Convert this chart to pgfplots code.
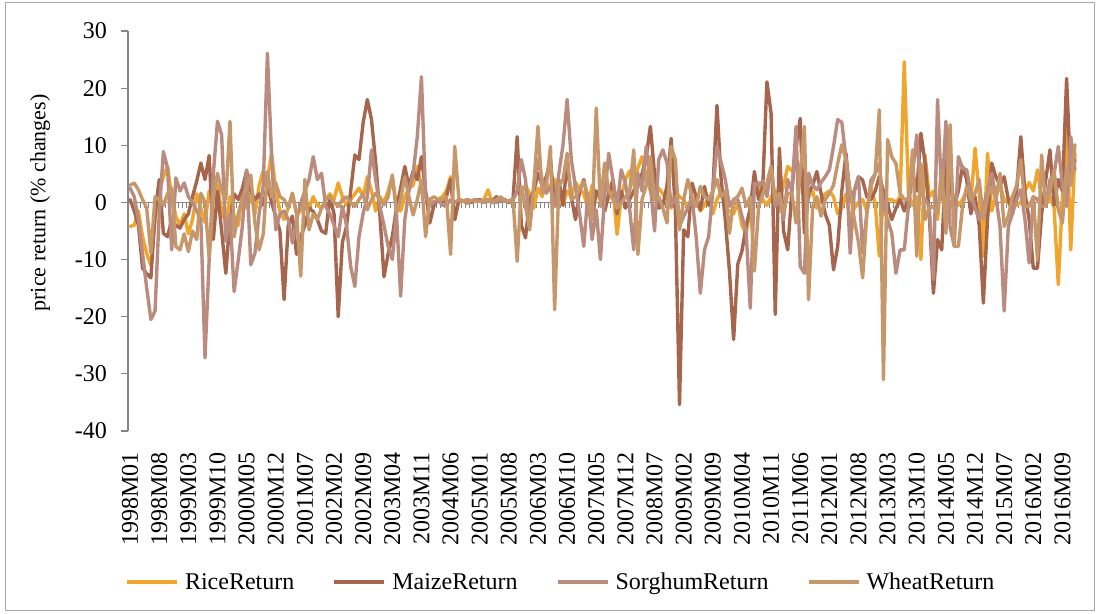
\documentclass[border=0pt]{standalone}
\usepackage{pgfplots}
\pgfplotsset{compat=1.18}
\usepackage{pgfplotstable}
\usepackage{fontspec}
\setmainfont{Liberation Serif}
\definecolor{rice}{RGB}{240,165,45}
\definecolor{maize}{RGB}{166,102,78}
\definecolor{sorghum}{RGB}{186,140,128}
\definecolor{wheat}{RGB}{197,151,106}
\definecolor{axgray}{RGB}{134,134,134}
\definecolor{framegray}{RGB}{170,170,170}

% monthly returns 1998M01 ... 2016M12, one value per month
\pgfplotstableread[row sep=\\, header=false]{
-4.2\\ -4.0\\ -1.5\\ -6.0\\ -9.0\\ -11.0\\ -3.0\\ 2.0\\ 4.5\\ 6.3\\ 1.0\\ -2.5\\
-4.0\\ -2.0\\ -5.5\\ -3.0\\ 1.5\\ -1.0\\ -3.5\\ 2.0\\ 0.5\\ 3.0\\ -1.5\\ -3.5\\
1.0\\ -2.5\\ -4.0\\ 2.0\\ -1.0\\ 1.5\\ -2.0\\ 3.0\\ 5.5\\ 4.0\\ 8.6\\ 2.0\\
-1.5\\ -3.0\\ -1.0\\ 1.6\\ -2.0\\ -1.5\\ 0.5\\ -1.0\\ 1.0\\ -0.5\\ -1.0\\ 0.5\\
1.5\\ 0.5\\ 3.4\\ 1.0\\ -0.5\\ 0.5\\ 1.5\\ 2.5\\ 1.0\\ 4.5\\ 2.0\\ -1.5\\
1.0\\ 0.0\\ 2.0\\ 4.5\\ -0.5\\ -1.5\\ 1.0\\ 2.5\\ 3.0\\ 6.3\\ 2.5\\ 1.0\\
0.5\\ 0.0\\ 0.5\\ 1.0\\ 2.0\\ 4.5\\ -3.0\\ 0.5\\ 0.3\\ -0.2\\ 0.3\\ 0.5\\
0.2\\ 0.5\\ 2.2\\ 0.0\\ 0.3\\ 0.5\\ 0.2\\ 0.0\\ 0.5\\ 2.0\\ 1.5\\ 3.0\\
1.5\\ -1.0\\ 2.5\\ 1.0\\ 3.5\\ 2.0\\ 4.0\\ 0.5\\ -0.5\\ 2.0\\ 1.0\\ 3.5\\
2.5\\ 1.5\\ -1.0\\ 3.0\\ 1.5\\ 0.5\\ -1.5\\ 1.0\\ 2.5\\ -5.6\\ 1.0\\ 4.0\\
5.5\\ 3.0\\ 6.0\\ 8.0\\ 4.5\\ 2.0\\ 0.5\\ 2.5\\ 1.5\\ 0.5\\ -1.0\\ 2.0\\
1.0\\ 0.5\\ -1.0\\ -0.5\\ 0.5\\ -1.5\\ -0.5\\ 1.0\\ -2.0\\ 0.5\\ 2.0\\ -1.0\\
-1.5\\ -2.0\\ 0.0\\ -4.0\\ -5.5\\ -1.0\\ 2.0\\ 3.5\\ 0.5\\ -0.5\\ 1.0\\ 2.0\\
0.5\\ 3.0\\ 6.3\\ 5.5\\ 7.0\\ 6.5\\ 0.5\\ 1.0\\ 2.0\\ -1.0\\ 0.5\\ 1.5\\
2.0\\ 1.0\\ -2.0\\ -1.0\\ 1.5\\ -3.0\\ -1.0\\ 0.0\\ 0.5\\ -1.5\\ 2.5\\ 0.0\\
-9.4\\ 1.0\\ 0.5\\ 0.5\\ 0.0\\ 1.0\\ 24.6\\ 1.5\\ -0.5\\ 1.0\\ -10.0\\ 8.3\\
1.0\\ 2.0\\ -3.0\\ 6.3\\ 0.5\\ 2.5\\ 1.0\\ -0.5\\ 0.5\\ 2.0\\ 0.0\\ 9.5\\
1.5\\ -9.4\\ 8.6\\ -1.5\\ 1.0\\ 3.0\\ 0.5\\ 0.0\\ 1.0\\ -0.5\\ 0.0\\ 2.0\\
3.5\\ 2.0\\ 5.7\\ 0.5\\ 0.0\\ 1.0\\ -1.0\\ -14.4\\ 1.0\\ 13.9\\ -8.3\\ 8.6\\
}\ricetab

\pgfplotstableread[row sep=\\, header=false]{
0.5\\ -1.5\\ -4.0\\ -11.5\\ -12.5\\ -13.2\\ -2.0\\ 4.0\\ -5.4\\ -6.0\\ -3.0\\ -4.0\\
-4.5\\ -3.0\\ -2.0\\ 1.0\\ 3.7\\ 6.9\\ 4.0\\ 8.2\\ -6.5\\ 2.0\\ -5.0\\ -12.4\\
-3.0\\ 1.5\\ 0.5\\ 2.5\\ 5.5\\ 2.0\\ 0.5\\ 1.5\\ -0.5\\ 3.0\\ 0.0\\ -2.5\\
-5.0\\ -17.0\\ -4.0\\ -2.4\\ -9.1\\ -6.0\\ -4.0\\ -1.0\\ -1.6\\ -3.0\\ -5.0\\ -5.4\\
1.0\\ -2.0\\ -20.0\\ -7.0\\ -4.2\\ 2.0\\ 8.3\\ 7.5\\ 14.0\\ 18.0\\ 14.5\\ 7.0\\
-2.0\\ -13.0\\ -9.0\\ -6.0\\ -1.0\\ 2.5\\ 6.3\\ 2.8\\ 5.5\\ 4.0\\ 8.0\\ 2.0\\
-3.6\\ -0.5\\ 0.5\\ 0.0\\ 1.0\\ 4.0\\ -3.0\\ 0.5\\ 0.2\\ 0.5\\ 0.0\\ 0.3\\
0.5\\ 0.0\\ 0.5\\ 0.2\\ 1.0\\ 0.3\\ 0.5\\ 0.0\\ 0.5\\ 11.5\\ -4.0\\ -6.2\\
0.5\\ 2.0\\ 5.1\\ 3.0\\ 4.5\\ 7.5\\ -0.5\\ 4.0\\ -0.5\\ 6.9\\ 1.0\\ -3.0\\
2.0\\ 4.0\\ 0.5\\ -3.0\\ 2.0\\ 1.0\\ -1.5\\ 1.5\\ 4.0\\ -2.0\\ 2.0\\ -1.0\\
0.5\\ 2.0\\ 3.5\\ 5.0\\ 8.0\\ 13.3\\ 5.0\\ -1.0\\ -0.5\\ 3.0\\ 11.2\\ -1.3\\
-35.4\\ -4.8\\ -6.0\\ 3.4\\ 1.0\\ -1.3\\ 2.8\\ -0.5\\ 2.0\\ 17.0\\ 4.0\\ -3.0\\
-12.0\\ -24.0\\ -10.8\\ -8.5\\ -4.2\\ -1.0\\ 5.4\\ 0.5\\ 2.8\\ 21.1\\ 15.6\\ -19.6\\
9.5\\ -5.0\\ -8.3\\ 2.0\\ 9.7\\ 14.7\\ -5.4\\ 1.6\\ 3.0\\ 5.4\\ 1.6\\ -2.0\\
-4.0\\ -11.8\\ -7.7\\ 2.0\\ 8.6\\ 0.5\\ 2.0\\ 4.5\\ 3.9\\ 1.0\\ 0.5\\ 2.0\\
4.5\\ 2.0\\ -0.5\\ -3.0\\ -1.0\\ 0.5\\ -1.5\\ 1.0\\ 5.0\\ 2.0\\ 12.1\\ 6.9\\
-2.0\\ -15.9\\ -6.5\\ -8.3\\ 7.5\\ 3.0\\ -0.5\\ 2.0\\ 6.3\\ 4.0\\ -2.0\\ 1.0\\
-4.0\\ -17.6\\ -3.0\\ 6.9\\ 4.5\\ 3.0\\ 4.5\\ 0.5\\ -2.0\\ 2.0\\ 11.5\\ 1.6\\
-3.0\\ -11.5\\ -11.5\\ -2.0\\ 4.0\\ 9.2\\ -0.5\\ 4.0\\ 2.0\\ 21.7\\ 4.0\\ 7.5\\
}\maizetab

\pgfplotstableread[row sep=\\, header=false]{
2.5\\ 1.0\\ -3.0\\ -9.0\\ -15.0\\ -20.5\\ -19.0\\ -2.0\\ 8.9\\ 6.0\\ -8.3\\ 4.3\\
2.0\\ 3.4\\ 1.0\\ 0.0\\ -1.5\\ -3.0\\ -27.2\\ -10.0\\ 5.0\\ 14.2\\ 11.8\\ -6.8\\
-2.0\\ -15.6\\ -10.0\\ -4.0\\ 5.7\\ -10.9\\ -8.9\\ -2.0\\ 3.0\\ 26.1\\ 8.0\\ -4.8\\
-2.0\\ -1.5\\ -3.0\\ -7.1\\ -3.0\\ -0.1\\ 2.0\\ 4.0\\ 8.0\\ 4.0\\ 5.1\\ -0.7\\
-2.0\\ -4.0\\ -6.0\\ -0.7\\ -4.0\\ -11.2\\ -14.7\\ -6.0\\ -1.9\\ 1.0\\ 9.2\\ 4.0\\
-0.7\\ -4.0\\ -7.7\\ -10.0\\ -2.0\\ -16.4\\ -3.0\\ 2.0\\ 5.0\\ 11.5\\ 22.0\\ 1.0\\
-0.5\\ 0.0\\ 0.5\\ -0.5\\ -0.5\\ 0.5\\ 0.0\\ 0.5\\ 0.2\\ 0.0\\ 0.3\\ 0.5\\
0.2\\ 0.0\\ 0.5\\ 0.3\\ 0.0\\ 0.5\\ 0.2\\ 0.3\\ 0.5\\ 2.0\\ 7.5\\ 4.0\\
-4.2\\ 3.0\\ 7.5\\ 4.0\\ 1.6\\ 2.8\\ -0.7\\ 5.0\\ 10.0\\ 18.0\\ 7.5\\ 2.8\\
-2.0\\ -7.7\\ 1.6\\ -6.5\\ -1.3\\ -10.0\\ 1.0\\ 8.6\\ 4.0\\ -0.7\\ 5.7\\ 3.4\\
-1.0\\ -8.3\\ 5.1\\ 2.0\\ 9.8\\ 3.0\\ -5.0\\ 7.5\\ 9.2\\ 6.9\\ -0.7\\ 1.0\\
-4.2\\ -2.4\\ -1.0\\ 1.0\\ -6.0\\ -15.9\\ -8.3\\ -6.0\\ 2.0\\ 9.8\\ 7.0\\ 4.0\\
-0.7\\ 0.5\\ 0.5\\ -2.4\\ -5.0\\ -18.5\\ 3.4\\ 3.0\\ 3.7\\ 1.0\\ 6.3\\ -0.7\\
0.5\\ -3.0\\ 4.0\\ 2.0\\ 13.3\\ -11.2\\ -12.4\\ 5.1\\ 3.0\\ 2.2\\ 3.5\\ 4.5\\
5.7\\ 9.8\\ 14.5\\ 14.0\\ 7.5\\ -8.9\\ 2.0\\ 4.5\\ -8.9\\ -2.0\\ 3.9\\ 5.0\\
6.8\\ -0.7\\ -3.0\\ -5.4\\ -12.4\\ -8.3\\ -8.3\\ -0.7\\ 5.0\\ 11.8\\ 1.6\\ 0.5\\
-0.7\\ -13.5\\ 18.0\\ 0.5\\ 14.2\\ -4.2\\ -7.7\\ 8.0\\ 6.0\\ 5.7\\ 1.6\\ -1.0\\
-3.0\\ -0.7\\ 2.0\\ 5.1\\ 1.0\\ -4.2\\ -19.0\\ -4.2\\ -1.9\\ 0.5\\ 2.2\\ -3.0\\
-10.6\\ 1.0\\ 0.5\\ -0.7\\ -0.5\\ 3.9\\ 5.0\\ 9.8\\ 3.0\\ -0.7\\ 11.5\\ 5.7\\
}\sorghumtab

\pgfplotstableread[row sep=\\, header=false]{
3.0\\ 3.4\\ 2.2\\ 0.5\\ -1.0\\ -8.9\\ 1.0\\ 0.5\\ -0.5\\ 1.5\\ 2.5\\ -7.7\\
-8.3\\ -5.5\\ -8.6\\ -5.0\\ -6.5\\ 1.6\\ 0.0\\ -9.7\\ 1.0\\ 5.1\\ 2.0\\ 0.5\\
14.2\\ -6.0\\ -2.0\\ 1.0\\ 2.5\\ 4.8\\ -3.6\\ -8.3\\ -5.5\\ 5.4\\ 1.0\\ 3.4\\
1.0\\ 0.5\\ -1.0\\ 1.6\\ -2.0\\ -12.9\\ 4.0\\ -4.8\\ -2.0\\ -3.0\\ -1.0\\ 0.5\\
1.0\\ 0.0\\ -0.7\\ 0.5\\ 1.0\\ 0.0\\ -0.7\\ 0.5\\ 1.5\\ -1.3\\ 0.5\\ 1.6\\
0.5\\ -0.4\\ 1.0\\ 4.8\\ -1.9\\ 0.5\\ 4.5\\ 1.0\\ -2.2\\ 0.5\\ 3.9\\ -6.0\\
0.5\\ 1.0\\ 0.5\\ 0.5\\ 1.0\\ -9.1\\ 9.8\\ 0.5\\ 0.2\\ 0.5\\ 0.3\\ 0.2\\
0.2\\ 0.3\\ 0.5\\ -0.1\\ 0.5\\ 1.0\\ 0.3\\ 0.2\\ 0.5\\ -10.3\\ 2.8\\ -0.7\\
-4.8\\ 3.0\\ 13.3\\ 1.6\\ 3.0\\ 9.8\\ -18.8\\ 2.8\\ 4.0\\ 8.6\\ 0.5\\ 1.0\\
2.2\\ 3.7\\ 1.0\\ -3.0\\ 16.5\\ -0.7\\ 6.9\\ 2.0\\ 0.5\\ -1.0\\ -0.1\\ 1.0\\
1.6\\ 9.2\\ -9.1\\ 0.5\\ 3.0\\ 8.0\\ 0.5\\ 1.0\\ -1.0\\ -3.6\\ 9.8\\ 7.5\\
-4.8\\ 0.5\\ 4.0\\ 1.0\\ -0.7\\ 2.8\\ 1.0\\ 0.5\\ 2.0\\ 4.0\\ 1.0\\ 2.0\\
-5.4\\ 0.5\\ 1.0\\ 2.5\\ -0.7\\ 1.0\\ -12.0\\ -0.7\\ 1.5\\ 3.4\\ 6.3\\ 0.5\\
1.6\\ -1.9\\ 1.6\\ 1.6\\ -3.6\\ 5.0\\ 13.3\\ -17.0\\ -0.7\\ 1.0\\ -2.4\\ 0.5\\
1.6\\ 3.0\\ 6.8\\ 10.1\\ 7.5\\ 2.0\\ -3.0\\ -7.0\\ -13.2\\ -2.0\\ 2.8\\ 5.0\\
16.2\\ -31.0\\ 11.0\\ 8.0\\ 6.8\\ 1.6\\ 0.5\\ 0.5\\ 9.2\\ -9.4\\ 6.8\\ -3.0\\
-1.0\\ -0.7\\ -1.9\\ 5.7\\ -5.4\\ 13.6\\ -7.7\\ -7.7\\ -0.7\\ 2.8\\ 0.5\\ 1.6\\
4.0\\ -3.0\\ 1.0\\ 2.8\\ 0.5\\ 5.1\\ -4.2\\ -2.4\\ 1.0\\ 3.0\\ 7.5\\ -0.7\\
-0.7\\ 1.0\\ -10.0\\ 8.3\\ -0.7\\ 2.0\\ 5.7\\ -1.3\\ -3.6\\ 6.3\\ 3.0\\ 10.1\\
}\wheattab

\begin{document}
\begin{tikzpicture}
\useasboundingbox (0,0) rectangle (1099pt,613pt);
\draw[framegray, line width=1pt] (5pt,3pt) rectangle (1094pt,610pt);
\begin{axis}[
  at={(128pt,182pt)}, anchor=south west,
  width=949pt, height=400pt, scale only axis,
  xmin=-0.5, xmax=227.5, ymin=-40, ymax=30,
  axis x line*=bottom, axis y line*=left,
  x axis line style={draw=none},
  y axis line style={draw=axgray, line width=1.2pt},
  xtick={0,7,...,224},
  xticklabels={1998M01,1998M08,1999M03,1999M10,2000M05,2000M12,2001M07,2002M02,2002M09,2003M04,2003M11,2004M06,2005M01,2005M08,2006M03,2006M10,2007M05,2007M12,2008M07,2009M02,2009M09,2010M04,2010M11,2011M06,2012M01,2012M08,2013M03,2013M10,2014M05,2014M12,2015M07,2016M02,2016M09},
  x tick label style={rotate=90, anchor=east, font=\fontsize{24}{24}\selectfont, inner sep=0pt},
  xticklabel shift=14pt,
  major x tick style={draw=none},
  ytick={-40,-30,-20,-10,0,10,20,30},
  yticklabels={-40,-30,-20,-10,0,10,20,30},
  y tick label style={font=\fontsize{24}{24}\selectfont, anchor=east, inner sep=0pt, xshift=-14pt},
  ytick style={draw=axgray, line width=1.2pt},
  tick align=outside, major tick length=7pt,
  legend columns=4,
  legend style={draw=none, fill=none, font=\fontsize{24}{24}\selectfont,
    at={(0.456,-0.3775)}, anchor=center,
    /tikz/every even column/.append style={column sep=36pt},
    /tikz/every odd column/.append style={column sep=4pt}},
  legend image code/.code={\draw[#1, line width=4pt, line cap=butt] (0pt,0pt) -- (50pt,0pt);},
  every axis plot/.append style={line width=3.4pt, line join=round, line cap=round},
]
\draw[axgray, line width=1.2pt] (axis cs:-0.5,0) -- (axis cs:227.5,0);
\pgfplotsinvokeforeach{0,...,228}{\draw[axgray, line width=0.8pt] (axis cs:{#1-0.5},0) -- ++(0pt,-6pt);}
\addplot[rice] table[x expr=\coordindex, y index=0] {\ricetab};
\addlegendentry{RiceReturn}
\addplot[maize] table[x expr=\coordindex, y index=0] {\maizetab};
\addlegendentry{MaizeReturn}
\addplot[sorghum] table[x expr=\coordindex, y index=0] {\sorghumtab};
\addlegendentry{SorghumReturn}
\addplot[wheat] table[x expr=\coordindex, y index=0] {\wheattab};
\addlegendentry{WheatReturn}
\end{axis}
\node[rotate=90, font=\fontsize{22}{22}\selectfont] at (40pt,410pt) {price return (\% changes)};
\end{tikzpicture}
\end{document}
